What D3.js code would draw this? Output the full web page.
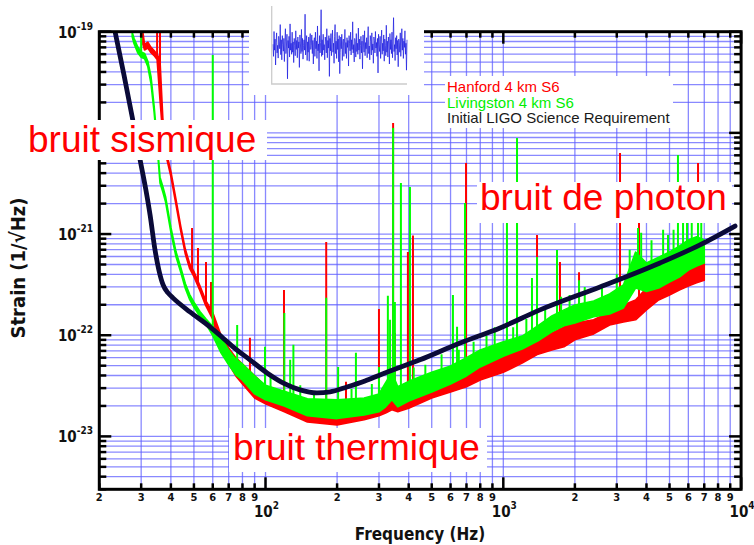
<!DOCTYPE html>
<html><head><meta charset="utf-8">
<script src="https://cdn.jsdelivr.net/npm/d3@7"></script>
<style>body{margin:0;background:#fff} svg{display:block}</style>
</head><body>
<svg id="c" width="754" height="545"></svg>
<script>
// ---------- DATA ----------
const requirement = [
[23.3,1.0e-19],[25.4,3.73e-20],[27.5,1.44e-20],[29.7,5.4e-21],[31.4,2.73e-21],[32.7,1.545e-21],
[34.3,6.97e-22],[35.6,4.42e-22],[37.1,3.14e-22],[38.9,2.62e-22],[40.8,2.34e-22],[48.1,1.70e-22],
[58.4,1.21e-22],[66.2,9.4e-23],[73.0,7.67e-23],[86.0,5.71e-23],[101.5,4.24e-23],[120.8,3.30e-23],
[139.7,2.88e-23],[164.6,2.69e-23],[186.7,2.75e-23],[220,3.08e-23],[262,3.53e-23],[303,4.05e-23],
[446,5.71e-23],[658,8.37e-23],[969,1.18e-22],[1427,1.78e-22],[2551,3.00e-22],[4560,5.18e-22],
[6715,7.82e-22],[9430,1.20e-21]
];
// [frequency, lower strain, upper strain]
const hanfordBand = [
[30.5,7.5e-20,9.9e-20],[31,6.6e-20,7.5e-20],[32,6.9e-20,7.9e-20],[33,6.2e-20,7.0e-20],[34,5.8e-20,6.5e-20],
[35,5.3e-20,6.0e-20],[36,2.1e-20,5.25e-20],[37,9.3e-21,1.4e-20],[38,6.2e-21,7.0e-21],[40,3.7e-21,4.15e-21],
[42,1.97e-21,2.22e-21],[44,1.07e-21,1.2e-21],[46,6.35e-22,7.1e-22],[48,4.55e-22,5.1e-22],[50,3.8e-22,4.25e-22],
[53,2.75e-22,3.08e-22],[56,1.97e-22,2.21e-22],[60,1.43e-22,1.68e-22],[65,7.6e-23,1.0e-22],[70,5.2e-23,7.5e-23],
[75,3.96e-23,6.0e-23],[80,3.3e-23,5.2e-23],[90,2.4e-23,3.96e-23],[100,2.1e-23,3.15e-23],[120,1.75e-23,2.75e-23],
[150,1.39e-23,2.3e-23],[200,1.3e-23,2.2e-23],[260,1.46e-23,2.3e-23],[300,1.6e-23,2.5e-23],[320,1.7e-23,3.0e-23],
[340,1.83e-23,3.2e-23],[360,1.75e-23,2.9e-23],[400,1.9e-23,2.75e-23],[500,2.4e-23,3.46e-23],[600,2.75e-23,3.96e-23],
[700,3.1e-23,4.5e-23],[800,3.6e-23,5.1e-23],[1000,4.3e-23,6.1e-23],[1200,5.3e-23,7.15e-23],[1400,6.5e-23,9.0e-23],
[1600,7.15e-23,1.05e-22],[1800,7.7e-23,1.21e-22],[2000,9.0e-23,1.32e-22],[2400,1.03e-22,1.42e-22],[2800,1.26e-22,1.7e-22],
[3200,1.35e-22,1.99e-22],[3600,1.42e-22,2.23e-22],[4000,1.78e-22,2.93e-22],[4500,2.23e-22,3.2e-22],[5000,2.5e-22,3.5e-22],
[5500,2.8e-22,4.2e-22],[6000,3.07e-22,4.6e-22],[6500,3.3e-22,4.95e-22],[7000,3.5e-22,5.3e-22]
];
const livingstonBand = [
[27.5,8.9e-20,9.9e-20],[28,7.6e-20,8.6e-20],[29,6.2e-20,7.1e-20],[30,5.6e-20,6.3e-20],[31,5.4e-20,6.1e-20],
[32,4.5e-20,5.1e-20],[33,3.05e-20,3.6e-20],[34,1.6e-20,1.85e-20],[35,7.4e-21,8.6e-21],[36,3.2e-21,3.65e-21],
[37,2.6e-21,2.95e-21],[38,2.07e-21,2.34e-21],[40,1.04e-21,1.17e-21],[42,6.0e-22,6.75e-22],[44,4.18e-22,4.7e-22],
[46,2.9e-22,3.25e-22],[48,2.25e-22,2.52e-22],[50,1.89e-22,2.12e-22],[53,1.53e-22,1.72e-22],[56,1.3e-22,1.46e-22],
[60,9.9e-23,1.22e-22],[65,6.7e-23,9.42e-23],[70,5.1e-23,7.15e-23],[75,4.06e-23,5.8e-23],[80,3.6e-23,5.2e-23],
[90,2.63e-23,3.96e-23],[100,2.3e-23,3.2e-23],[120,2.0e-23,2.8e-23],[150,1.6e-23,2.35e-23],[200,1.5e-23,2.3e-23],
[260,1.63e-23,2.4e-23],[300,1.75e-23,2.63e-23],[320,1.96e-23,3.4e-23],[340,2.3e-23,4.3e-23],[360,1.96e-23,3.1e-23],
[400,2.24e-23,3.5e-23],[500,2.75e-23,4.3e-23],[600,3.3e-23,4.97e-23],[700,3.96e-23,6.0e-23],[800,4.86e-23,7.15e-23],
[1000,6.2e-23,8.6e-23],[1200,7.3e-23,9.8e-23],[1400,8.8e-23,1.24e-22],[1600,1.08e-22,1.55e-22],[1800,1.24e-22,1.78e-22],
[2000,1.32e-22,1.99e-22],[2400,1.52e-22,2.18e-22],[2800,1.62e-22,2.56e-22],[3200,1.86e-22,3.14e-22],[3600,2.93e-22,6.65e-22],
[4000,2.7e-22,5.18e-22],[4500,2.93e-22,5.9e-22],[5000,3.36e-22,6.65e-22],[5500,3.76e-22,7.6e-22],[6000,4.4e-22,8.75e-22],
[6500,4.84e-22,9.4e-22],[7000,5.18e-22,8.75e-22]
];
// [frequency, peak strain]
const hanfordSpikes = [
[35,1.0e-19],[36,1.0e-19],[49.1,1.15e-21],[52.0,7.3e-22],[56.2,5.3e-22],[59.0,3.36e-22],[86,9.42e-23],[119.6,2.8e-22],[180,8.36e-22],
[218,3.46e-23],[300,1.82e-22],[344,1.25e-20],[350,1.05e-22],[397,6.65e-22],[417,9.65e-22],[697,5.04e-21],
[1142,1.29e-21],[1386,9.8e-22],[1731,5.3e-22],[2082,4.2e-22],[3096,6.33e-21],[3721,1.29e-21],[6590,5.04e-21]
];
const livingstonSpikes = [
[30,1.0e-19],[60,5.9e-20],[76,1.26e-22],[99.5,7.7e-23],[120,1.66e-22],[127,5.71e-23],[131,8.03e-23],[180,2.34e-22],
[202,4.86e-23],[240,6.7e-23],[300,4.86e-23],[327,2.45e-22],[334,1.42e-22],[344,1.12e-20],[350,2.13e-22],
[371,3.2e-21],[405,2.92e-21],[614,2.5e-22],[639,1.21e-22],[690,2.03e-21],[1036,1.29e-21],[1142,8.9e-21],
[1320,3.68e-22],[1386,5.94e-22],[1682,6.96e-22],[2082,3.5e-22],[3686,1.15e-21],[4927,9.8e-22],[5426,6.05e-21],
[5923,1.29e-21],[6590,1.29e-21],
[105,3.9e-23],[140,3.2e-23],[160,2.8e-23],[230,2.95e-23],[280,3.3e-23],[420,4.8e-23],[470,5.1e-23],
[550,6.5e-23],[650,7.2e-23],[750,8.6e-23],[850,9.8e-23],[920,1.2e-22],[1100,1.2e-22],[1250,1.45e-22],
[1500,1.85e-22],[1750,2.4e-22],[1900,2.5e-22],[2200,3.0e-22],[2600,3.2e-22],[3000,4.0e-22],[3400,7.0e-22],
[3800,1.03e-21],[4200,8.7e-22],[4700,1.1e-21],[5200,1.1e-21],[5700,1.3e-21],[6200,1.3e-21],[6800,1.4e-21]
];
// inset time series (arbitrary units)
const insetSignal = [
0.05,-0.30,0.42,-0.12,0.20,-0.55,0.10,0.38,-0.20,0.02,-0.35,0.28,0.12,-0.08,0.62,-0.25,0.18,-0.40,0.30,0.04,
-0.15,0.22,-0.45,0.14,0.50,-0.22,0.00,0.34,-0.95,0.16,-0.06,0.28,-0.32,0.64,-0.12,0.08,-0.24,0.40,-0.18,0.12,
-0.48,0.22,0.02,-0.28,0.44,-0.10,0.16,-0.34,0.26,-0.06,0.12,-0.62,0.32,0.06,-0.22,0.48,-0.16,0.22,-0.38,0.02,
0.18,-0.12,0.92,-0.26,0.06,0.30,-0.42,0.12,-0.18,0.26,-0.44,0.20,0.36,-0.10,0.02,0.32,-0.22,0.16,-0.52,0.10,
0.24,-0.30,0.40,-0.08,0.14,-0.36,0.58,-0.14,0.06,-0.72,0.30,-0.20,0.10,1.05,-0.30,0.18,-0.26,0.34,-0.12,0.04,
-0.40,0.26,0.12,-0.20,0.50,-0.34,0.16,-0.06,0.30,-0.88,0.22,-0.14,0.36,-0.28,0.10,0.46,-0.18,0.08,-0.50,0.28,
0.62,-0.22,0.14,-0.36,0.40,-0.10,0.20,-0.46,0.30,-0.80,
-0.18,0.26,-0.08,0.34,-0.42,0.12,0.20,-0.30,0.06,0.48,-0.22,0.10,-0.36,0.24,-0.04,0.16,-0.58,0.30,0.08,-0.14,
0.40,-0.26,0.18,-0.10,0.70,-0.20,0.04,-0.46,0.22,0.12,-0.32,0.36,-0.16,0.08,-0.24,0.52,-0.12,0.20,-0.38,0.02,
0.28,-0.20,0.14,-0.66,0.32,0.06,-0.18,0.44,-0.28,0.10,-0.08,0.24,-0.34,0.18,0.56,-0.22,0.00,-0.40,0.30,0.14,
-0.26,0.38,-0.12,0.06,-0.50,0.26,0.16,-0.20,0.42,-0.06,0.10,-0.30,0.22,-0.78,0.34,0.04,-0.16,0.28,-0.36,0.12,
0.46,-0.24,0.08,-0.14,0.32,-0.44,0.20,0.02,-0.28,0.60,-0.18,0.14,-0.32,0.26,0.06,-0.52,0.36,-0.10,0.18,-0.22,
0.40,-0.34,0.12,0.82,-0.16,0.04,-0.42,0.24,-0.08,0.30,-0.26,0.16,-0.60,0.20,0.10,-0.18,0.38,-0.30,0.06,0.50,
-0.12,0.22,-0.36,0.14,-0.04,0.44,-0.24,0.08,-0.70,0.18
];
const xMajorTicks = [100, 1000, 10000];
const xMajorLabels = [["10","2"],["10","3"],["10","4"]];
const xMinorDigits = ["2","3","4","5","6","7","8","9"];
const yMajorTicks = [1e-19, 1e-20, 1e-21, 1e-22, 1e-23];
const yLabelTicks = [1e-19, 1e-21, 1e-22, 1e-23];   // 10^-20 is hidden behind the annotation
const yLabels = [["10","-19"],["10","-21"],["10","-22"],["10","-23"]];
const legendNames = ["Hanford 4 km S6","Livingston 4 km S6","Initial LIGO Science Requirement"];
const legendColors = ["#ff0000","#00ee00","#1a1a1a"];
const annotations = [
  {text:"bruit sismique", x:28, y:152, box:[0,120,267,160]},
  {text:"bruit de photon", x:480, y:210, box:[477,182,732,223]},
  {text:"bruit thermique", x:233, y:460, box:[229,428,487,472]}
];

// ---------- DRAW ----------
const svg = d3.select("#c");
const X0=99.3, X1=741.1, Y0=31.7, Y1=489.3;
const x = d3.scaleLog().domain([20,10000]).range([X0,X1]);
const y = d3.scaleLog().domain([3e-24,1e-19]).range([Y1,Y0]);
const condensed = "'DejaVu Sans Condensed','DejaVu Sans',sans-serif";

svg.append("rect").attr("width",754).attr("height",545).attr("fill","#fff");

const xTickVals = [];
[10,100,1000].forEach(d=>{for(let m=1;m<=9;m++){const v=m*d; if(v>=20) xTickVals.push(v);}});
xTickVals.push(10000);
const yTickVals = [];
[-24,-23,-22,-21,-20].forEach(e=>{for(let m=1;m<=9;m++){const v=m*Math.pow(10,e); if(v>=2.99e-24) yTickVals.push(v);}});
yTickVals.push(1e-19);

const grid = svg.append("g").attr("stroke","#5c5cff").attr("stroke-opacity",0.72).attr("stroke-width",1.3);
grid.selectAll(".gx").data(xTickVals).join("line").attr("x1",d=>x(d)).attr("x2",d=>x(d)).attr("y1",Y0).attr("y2",Y1);
grid.selectAll(".gy").data(yTickVals).join("line").attr("x1",X0).attr("x2",X1).attr("y1",d=>y(d)).attr("y2",d=>y(d));

svg.append("clipPath").attr("id","clip").append("rect").attr("x",X0).attr("y",Y0).attr("width",X1-X0).attr("height",Y1-Y0);
const plot = svg.append("g").attr("clip-path","url(#clip)");

const area = d3.area().x(d=>x(d[0])).y0(d=>y(d[1])).y1(d=>y(d[2]));
function bandMid(band,f){
  for(let i=0;i<band.length-1;i++){
    const a=band[i], b=band[i+1];
    if(f>=a[0] && f<=b[0]){
      const t=(Math.log(f)-Math.log(a[0]))/(Math.log(b[0])-Math.log(a[0]));
      const la=(Math.log(a[1])+Math.log(a[2]))/2, lb=(Math.log(b[1])+Math.log(b[2]))/2;
      return Math.exp(la+t*(lb-la));
    }
  }
  return band[band.length-1][1];
}
function drawSeries(band, spikes, color){
  plot.append("path").datum(band).attr("d",area).attr("fill",color).attr("stroke",color).attr("stroke-width",1.6).attr("stroke-linejoin","round");
  plot.append("g").selectAll("line").data(spikes).join("line")
    .attr("x1",d=>x(d[0])).attr("x2",d=>x(d[0]))
    .attr("y1",d=>y(d[1])).attr("y2",d=>y(bandMid(band,d[0])))
    .attr("stroke",color).attr("stroke-width",2);
}
drawSeries(hanfordBand, hanfordSpikes, "#ff0000");
drawSeries(livingstonBand, livingstonSpikes, "#00ff00");

plot.append("path").datum(requirement)
  .attr("d", d3.line().x(d=>x(d[0])).y(d=>y(d[1])).curve(d3.curveMonotoneX))
  .attr("fill","none").attr("stroke","#0a0a38").attr("stroke-width",4.8).attr("stroke-linecap","round");

// axes frame and ticks
const ax = svg.append("g").attr("stroke","#000");
const isMajX = v => xMajorTicks.includes(v);
const isMajY = v => yMajorTicks.some(t=>Math.abs(t-v)/t<1e-6);
ax.selectAll(".tb").data(xTickVals).join("line").attr("x1",d=>x(d)).attr("x2",d=>x(d))
  .attr("y1",Y1).attr("y2",d=>Y1-(isMajX(d)?12:6)).attr("stroke-width",2.5);
ax.selectAll(".tt").data(xTickVals).join("line").attr("x1",d=>x(d)).attr("x2",d=>x(d))
  .attr("y1",Y0).attr("y2",d=>Y0+(isMajX(d)?12:6)).attr("stroke-width",2.5);
ax.selectAll(".tl").data(yTickVals).join("line").attr("y1",d=>y(d)).attr("y2",d=>y(d))
  .attr("x1",X0).attr("x2",d=>X0+(isMajY(d)?12:7)).attr("stroke-width",2.5);
ax.selectAll(".tr").data(yTickVals).join("line").attr("y1",d=>y(d)).attr("y2",d=>y(d))
  .attr("x1",X1).attr("x2",d=>X1-(isMajY(d)?12:7)).attr("stroke-width",2.5);
ax.append("rect").attr("x",X0).attr("y",Y0).attr("width",X1-X0).attr("height",Y1-Y0)
  .attr("fill","none").attr("stroke-width",3);

// white boxes
svg.append("rect").attr("x",249).attr("y",0).attr("width",175).attr("height",95).attr("fill","#fff");
svg.append("rect").attr("x",445).attr("y",76).attr("width",228).attr("height",52).attr("fill","#fff");
annotations.forEach(a=>{
  svg.append("rect").attr("x",a.box[0]).attr("y",a.box[1]).attr("width",a.box[2]-a.box[0]).attr("height",a.box[3]-a.box[1]).attr("fill","#fff");
});

// inset
const ix = d3.scaleLinear().domain([0,insetSignal.length-1]).range([273,407]);
const iy = d3.scaleLinear().domain([-1.1,1.1]).range([84,8]);
svg.append("path").datum(insetSignal).attr("d",d3.line().x((d,i)=>ix(i)).y(d=>iy(d)))
  .attr("fill","none").attr("stroke","#1a1ae0").attr("stroke-width",0.9).attr("stroke-opacity",0.8);
svg.append("path").attr("d","M271.7,6V84H407").attr("fill","none").attr("stroke","#cccccc").attr("stroke-width",1.3);

// tick labels
const yl = svg.append("g").attr("font-family",condensed).attr("font-weight","bold").attr("fill","#111");
yLabelTicks.forEach((v,i)=>{
  const t = yl.append("text").attr("x",93).attr("y",y(v)+6).attr("text-anchor","end").attr("font-size",15);
  t.append("tspan").text(yLabels[i][0]);
  t.append("tspan").attr("dy",-8).attr("font-size",10).text(yLabels[i][1]);
});
const xl = svg.append("g").attr("font-family",condensed).attr("font-weight","bold").attr("fill","#111");
[10,100,1000].forEach(d=>{
  xMinorDigits.forEach((lab,k)=>{
    const v=(k+2)*d; if(v<20) return;
    xl.append("text").attr("x",x(v)).attr("y",501).attr("text-anchor","middle").attr("font-size",11).text(lab);
  });
});
xMajorTicks.forEach((v,i)=>{
  const t = xl.append("text").attr("x",x(v)+1).attr("y",517).attr("text-anchor","middle").attr("font-size",15);
  t.append("tspan").text(xMajorLabels[i][0]);
  t.append("tspan").attr("dy",-8).attr("font-size",10).text(xMajorLabels[i][1]);
});

// axis titles
svg.append("text").attr("x",420).attr("y",540).attr("text-anchor","middle")
  .attr("font-family",condensed).attr("font-weight","bold").attr("font-size",17).attr("fill","#111").text("Frequency (Hz)");
svg.append("text").attr("transform","translate(25,268) rotate(-90)").attr("text-anchor","middle")
  .attr("font-family",condensed).attr("font-weight","bold").attr("font-size",20).attr("fill","#111").text("Strain (1/\u221AHz)");

// legend
legendNames.forEach((n,i)=>{
  svg.append("text").attr("x",447).attr("y",92+i*15.5).attr("font-family","'Liberation Sans',Arial,sans-serif")
    .attr("font-size",15).attr("fill",legendColors[i]).text(n);
});

// annotations
annotations.forEach(a=>{
  svg.append("text").attr("x",a.x).attr("y",a.y).attr("font-family","'Liberation Sans',Arial,sans-serif")
    .attr("font-size",37).attr("fill","#ff0000").text(a.text);
});
</script>
</body></html>
